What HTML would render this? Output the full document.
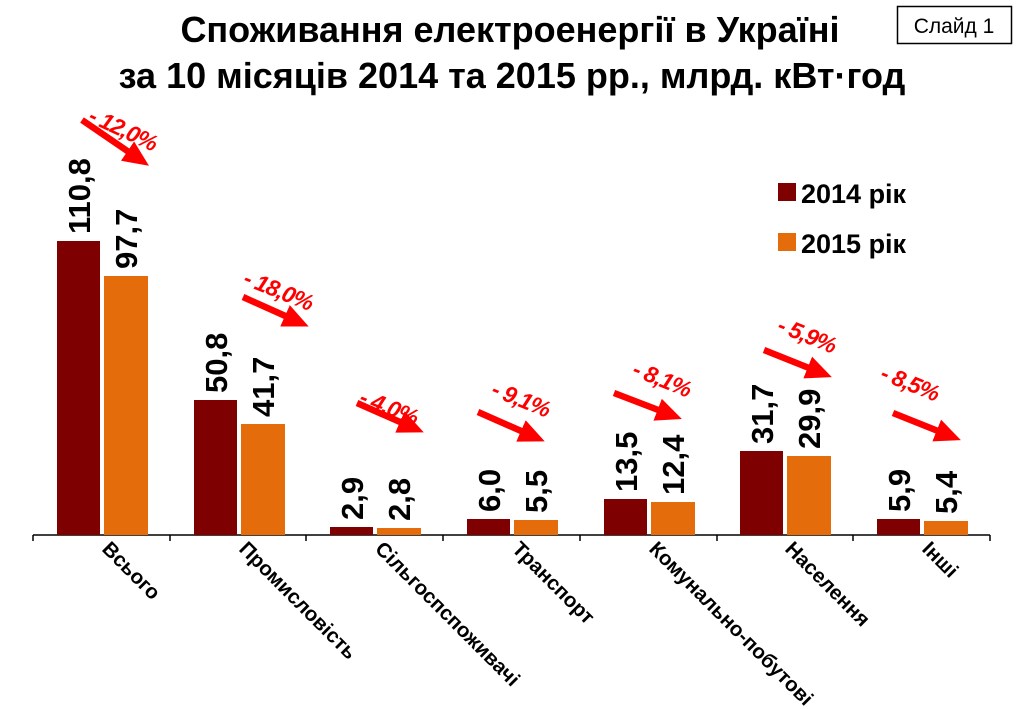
<!DOCTYPE html>
<html><head><meta charset="utf-8"><style>
body{margin:0;background:#fff}
svg{display:block;font-family:"Liberation Sans","DejaVu Sans",sans-serif;font-weight:bold}
</style></head><body>
<svg width="1024" height="709" viewBox="0 0 1024 709" xmlns="http://www.w3.org/2000/svg">
<defs>
<marker id="ah" markerWidth="4" markerHeight="3.6" refX="2.7" refY="1.8" orient="auto" markerUnits="strokeWidth">
<path d="M0,0 L4,1.8 L0,3.6 Z" fill="#ff0000"/></marker>
</defs>
<text x="510" y="42" font-size="36" text-anchor="middle">Споживання електроенергії в Україні</text>
<text x="512" y="88" font-size="36" text-anchor="middle">за 10 місяців 2014 та 2015 рр., млрд. кВт·год</text>
<rect x="897.5" y="6.5" width="114" height="37" fill="none" stroke="#000" stroke-width="1.5"/>
<text x="954" y="33" font-size="21" font-weight="normal" text-anchor="middle">Слайд 1</text>

<rect x="778" y="183" width="18" height="18" fill="#7f0000"/>
<text x="801" y="203" font-size="27">2014 рік</text>
<rect x="778" y="233" width="18" height="18" fill="#e46c0a"/>
<text x="801" y="253" font-size="27">2015 рік</text>

<line x1="33" y1="535" x2="990" y2="535" stroke="#000" stroke-width="1.5"/>
<g stroke="#000" stroke-width="1.5">
<line x1="33" y1="535" x2="33" y2="541"/><line x1="170" y1="535" x2="170" y2="541"/>
<line x1="306" y1="535" x2="306" y2="541"/><line x1="443" y1="535" x2="443" y2="541"/>
<line x1="580" y1="535" x2="580" y2="541"/><line x1="717" y1="535" x2="717" y2="541"/>
<line x1="853" y1="535" x2="853" y2="541"/><line x1="990" y1="535" x2="990" y2="541"/>
</g>

<g fill="#7f0000">
<rect x="57" y="241" width="43" height="294"/>
<rect x="194" y="400" width="43" height="135"/>
<rect x="330" y="527" width="43" height="8"/>
<rect x="467" y="519" width="43" height="16"/>
<rect x="604" y="499" width="43" height="36"/>
<rect x="740" y="451" width="43" height="84"/>
<rect x="877" y="519" width="43" height="16"/>
</g>
<g fill="#e46c0a">
<rect x="104" y="276" width="44" height="259"/>
<rect x="241" y="424" width="44" height="111"/>
<rect x="377" y="528" width="44" height="7"/>
<rect x="514" y="520" width="44" height="15"/>
<rect x="651" y="502" width="44" height="33"/>
<rect x="787" y="456" width="44" height="79"/>
<rect x="924" y="521" width="44" height="14"/>
</g>

<g font-size="31">
<text transform="translate(90,234) rotate(-90)">110,8</text>
<text transform="translate(137,269) rotate(-90)">97,7</text>
<text transform="translate(227,393) rotate(-90)">50,8</text>
<text transform="translate(274,417) rotate(-90)">41,7</text>
<text transform="translate(363,520) rotate(-90)">2,9</text>
<text transform="translate(410,521) rotate(-90)">2,8</text>
<text transform="translate(500,512) rotate(-90)">6,0</text>
<text transform="translate(547,513) rotate(-90)">5,5</text>
<text transform="translate(637,492) rotate(-90)">13,5</text>
<text transform="translate(684,495) rotate(-90)">12,4</text>
<text transform="translate(773,444) rotate(-90)">31,7</text>
<text transform="translate(820,449) rotate(-90)">29,9</text>
<text transform="translate(910,512) rotate(-90)">5,9</text>
<text transform="translate(957,514) rotate(-90)">5,4</text>
</g>

<g font-size="20.5">
<text transform="translate(101,550) rotate(45)">Всього</text>
<text transform="translate(238,550) rotate(45)">Промисловість</text>
<text transform="translate(374,550) rotate(45)">Сільгоспспоживачі</text>
<text transform="translate(511,550) rotate(45)">Транспорт</text>
<text transform="translate(648,550) rotate(45)">Комунально-побутові</text>
<text transform="translate(784,550) rotate(45)">Населення</text>
<text transform="translate(921,550) rotate(45)">Інші</text>
</g>

<g stroke="#ff0000" stroke-width="6.5" marker-end="url(#ah)">
<line x1="82" y1="120" x2="142" y2="161"/>
<line x1="243" y1="297" x2="301" y2="323"/>
<line x1="357" y1="403" x2="416" y2="429"/>
<line x1="478" y1="412" x2="537" y2="438"/>
<line x1="614" y1="393" x2="674" y2="416"/>
<line x1="764" y1="350" x2="824" y2="374"/>
<line x1="893" y1="413" x2="953" y2="437"/>
</g>
<g fill="#ff0000" font-size="23" font-style="italic" letter-spacing="-1">
<text transform="translate(87,121) rotate(25)">- 12,0%</text>
<text transform="translate(242,284) rotate(22)">- 18,0%</text>
<text transform="translate(358,403) rotate(22)">- 4,0%</text>
<text transform="translate(490,395) rotate(22)">- 9,1%</text>
<text transform="translate(631,375) rotate(22)">- 8,1%</text>
<text transform="translate(776,331) rotate(22)">- 5,9%</text>
<text transform="translate(879,379) rotate(22)">- 8,5%</text>
</g>
</svg>
</body></html>
